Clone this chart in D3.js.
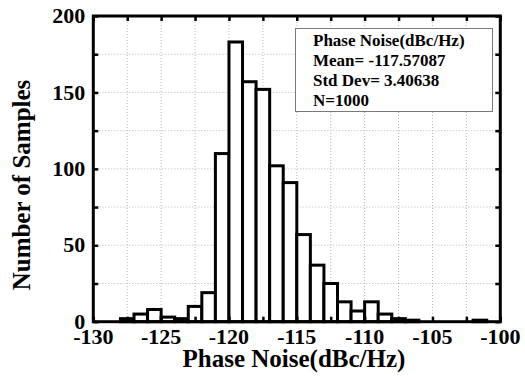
<!DOCTYPE html>
<html>
<head>
<meta charset="utf-8">
<script src="https://cdn.jsdelivr.net/npm/d3@7"></script>
<style>
  html, body { margin: 0; padding: 0; background: #fff; }
  svg { display: block; }
  svg text { font-family: "Liberation Serif", "Times New Roman", serif; font-weight: bold; fill: #000; }
</style>
</head>
<body>
<svg id="chart" width="525" height="378"></svg>
<script>
// ---- data ----
const binStarts = [-128, -127, -126, -125, -124, -123, -122, -121, -120, -119, -118, -117, -116, -115, -114, -113, -112, -111, -110, -109, -108, -107, -102];
const counts    = [   2,    5,    8,    3,    2,   10,   19,  110,  183,  157,  152,  102,   91,   57,   37,   25,   13,    7,   13,    5,    2,    1,    1];
const binWidth = 1;
const xTickLabels = [-130, -125, -120, -115, -110, -105, -100];
const yTickLabels = [0, 50, 100, 150, 200];
const legendLines = ["Phase Noise(dBc/Hz)", "Mean= -117.57087", "Std Dev= 3.40638", "N=1000"];
const xTitle = "Phase Noise(dBc/Hz)";
const yTitle = "Number of Samples";

// ---- layout ----
const L = 93.3, R = 500.3, T = 16, B = 321.7;
const svg = d3.select("#chart");
const x = d3.scaleLinear().domain([-130, -100]).range([L, R]);
const y = d3.scaleLinear().domain([0, 200]).range([B, T]);

const xMinor = d3.range(0, 13).map(i => -130 + 2.5 * i);
const yMinor = d3.range(0, 9).map(i => 25 * i);

// grid
const grid = svg.append("g");
grid.selectAll("line.gx").data(xMinor.filter(v => v > -130 && v < -100)).join("line")
  .attr("x1", d => x(d)).attr("x2", d => x(d)).attr("y1", T).attr("y2", B)
  .attr("stroke", "#b8b8b8").attr("stroke-width", 1).attr("stroke-dasharray", "1,2");
grid.selectAll("line.gy").data(yMinor.filter(v => v > 0 && v < 200)).join("line")
  .attr("y1", d => y(d)).attr("y2", d => y(d)).attr("x1", L).attr("x2", R)
  .attr("stroke", "#b8b8b8").attr("stroke-width", 1).attr("stroke-dasharray", "1,2");

// bars
svg.append("g").selectAll("rect").data(binStarts).join("rect")
  .attr("x", (d) => x(d))
  .attr("width", d => x(d + binWidth) - x(d))
  .attr("y", (d, i) => y(counts[i]))
  .attr("height", (d, i) => y(0) - y(counts[i]))
  .attr("fill", "#fff").attr("stroke", "#000").attr("stroke-width", 3);

// axes (inward ticks)
const tickLen = 5;
const xb = svg.append("g").attr("transform", `translate(0,${B})`)
  .call(d3.axisBottom(x).tickValues(xMinor).tickSize(-tickLen).tickFormat(""));
const xt = svg.append("g").attr("transform", `translate(0,${T})`)
  .call(d3.axisTop(x).tickValues(xMinor).tickSize(-tickLen).tickFormat(""));
const yl = svg.append("g").attr("transform", `translate(${L},0)`)
  .call(d3.axisLeft(y).tickValues(yMinor).tickSize(-tickLen).tickFormat(""));
const yr = svg.append("g").attr("transform", `translate(${R},0)`)
  .call(d3.axisRight(y).tickValues(yMinor).tickSize(-tickLen).tickFormat(""));
[xb, xt, yl, yr].forEach(g => {
  g.select(".domain").remove();
  g.selectAll(".tick text").remove();
  g.selectAll(".tick line").attr("stroke", "#000").attr("stroke-width", 2.5);
});

// tick labels
svg.append("g").selectAll("text").data(xTickLabels).join("text")
  .attr("x", d => x(d)).attr("y", B + 22.3).attr("text-anchor", "middle")
  .attr("font-size", 22).text(d => d);
svg.append("g").selectAll("text").data(yTickLabels).join("text")
  .attr("x", L - 8).attr("y", d => y(d) + 7.2).attr("text-anchor", "end")
  .attr("font-size", 22).text(d => d);

// frame
svg.append("rect").attr("x", L).attr("y", T).attr("width", R - L).attr("height", B - T)
  .attr("fill", "none").attr("stroke", "#000").attr("stroke-width", 3);

// legend box
const lg = svg.append("g");
lg.append("rect").attr("x", 295.5).attr("y", 28.5).attr("width", 197).attr("height", 83)
  .attr("fill", "#fff").attr("stroke", "#7a7a7a").attr("stroke-width", 1);
lg.selectAll("text").data(legendLines).join("text")
  .attr("x", 313).attr("y", (d, i) => 45.5 + i * 20)
  .attr("font-size", 17).text(d => d);

// titles
svg.append("text").attr("x", 294).attr("y", 367).attr("text-anchor", "middle")
  .attr("font-size", 25).text(xTitle);
svg.append("text").attr("transform", "translate(30,185) rotate(-90)").attr("text-anchor", "middle")
  .attr("font-size", 25).text(yTitle);
</script>
</body>
</html>
